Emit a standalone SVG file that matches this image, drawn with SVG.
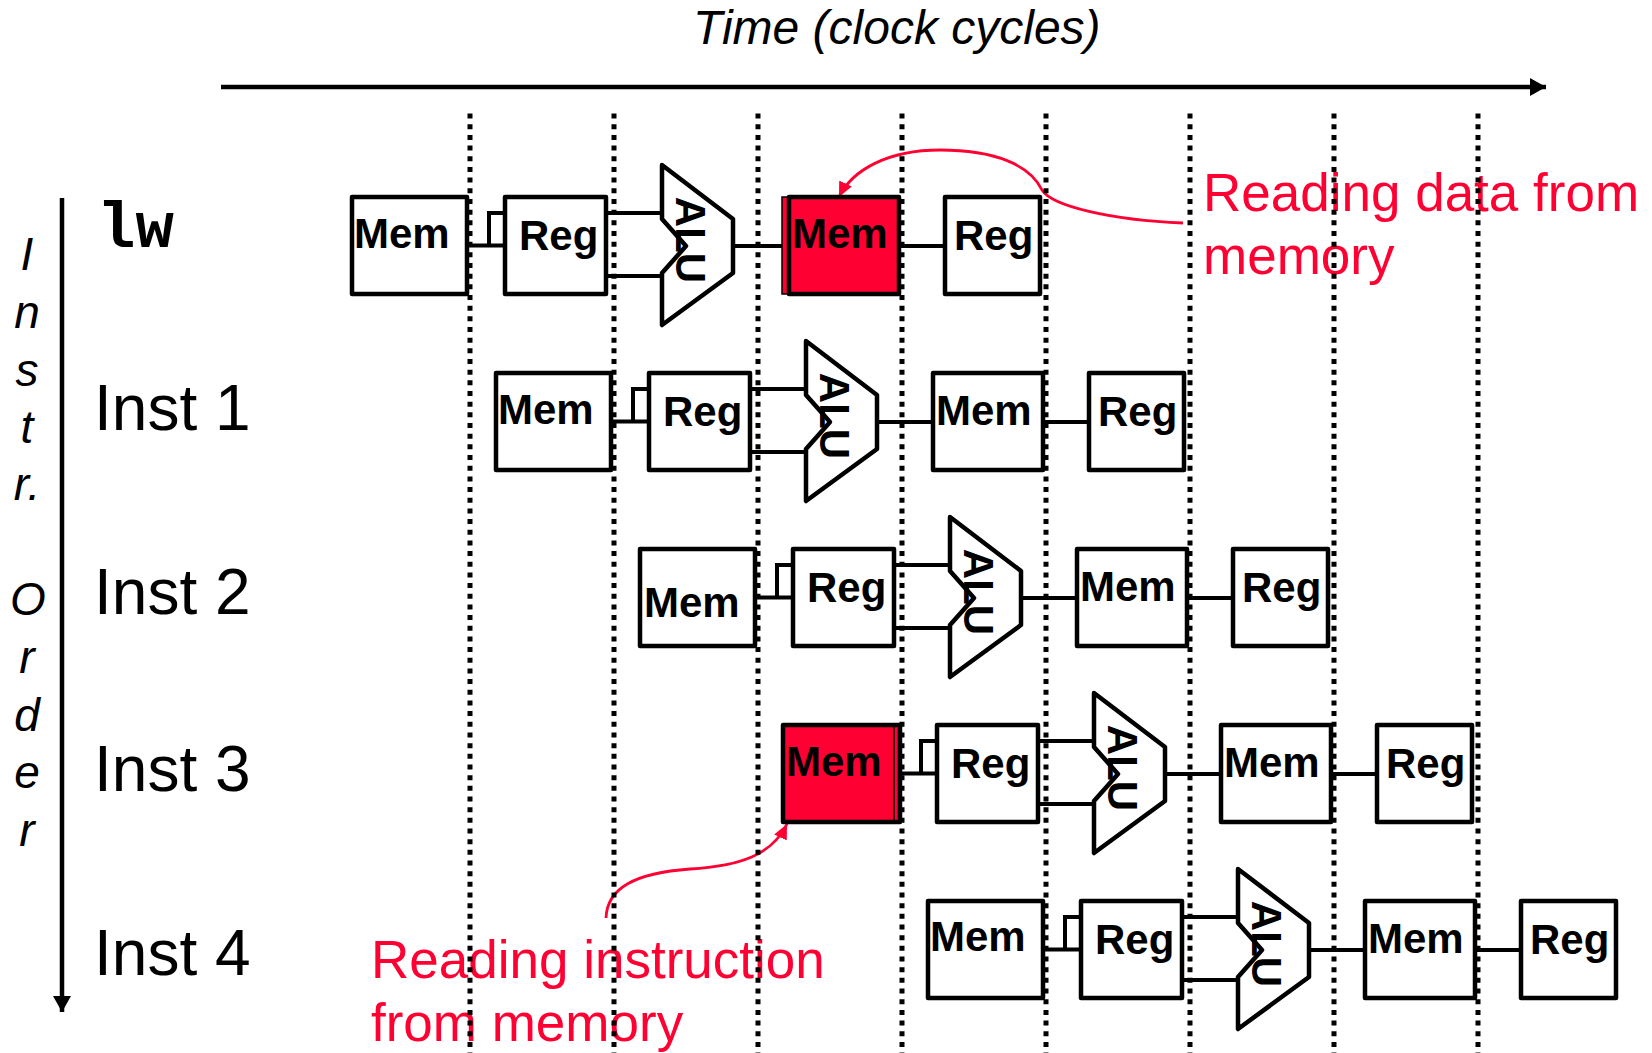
<svg xmlns="http://www.w3.org/2000/svg" width="1652" height="1053" viewBox="0 0 1652 1053">
<style>
.box{fill:#fff;stroke:#000;stroke-width:4.5;stroke-linejoin:round}
.redbox{fill:#FF0033;stroke:#000;stroke-width:4.5;stroke-linejoin:round}
.thin{fill:#FF0033;stroke:#000;stroke-width:1.5}
.wire{fill:none;stroke:#000;stroke-width:4}
.dot{fill:none;stroke:#000;stroke-width:5;stroke-dasharray:5 5.67}
.lbl{font-family:"Liberation Sans",Arial,sans-serif;font-weight:bold;font-size:42px;fill:#000}
.row{font-family:"Liberation Sans",Arial,sans-serif;font-size:64px;fill:#000}
.ord{font-family:"Liberation Sans",Arial,sans-serif;font-style:italic;font-size:46px;fill:#000}
.ann{font-family:"Liberation Sans",Arial,sans-serif;font-size:53px;fill:#FF0033}
.redline{fill:none;stroke:#FF0033;stroke-width:2.8}
.axis{fill:none;stroke:#000;stroke-width:4.5}
</style>
<defs>
<marker id="ah-black" markerUnits="userSpaceOnUse" markerWidth="18" markerHeight="18" refX="16" refY="9" orient="auto">
<path d="M0,0 L16,9 L0,18 Z" fill="#000"/>
</marker>
<marker id="ah-red" markerUnits="userSpaceOnUse" markerWidth="16" markerHeight="14" refX="15" refY="7" orient="auto">
<path d="M0,0 L15,7 L0,14 Z" fill="#FF0033"/>
</marker>
<polygon id="alu-shape" points="662,165 733,219 733,273 662,325 662,273 686,246 662,219"/>
</defs>
<rect width="1652" height="1053" fill="#fff"/>

<g id="title">
<text x="693" y="44" style="font-family:'Liberation Sans',Arial,sans-serif;font-style:italic;font-size:48px">Time (clock cycles)</text>
</g>

<g id="order-label">
<text class="ord" text-anchor="middle" x="27" y="270">I</text>
<text class="ord" text-anchor="middle" x="27" y="328">n</text>
<text class="ord" text-anchor="middle" x="27" y="386">s</text>
<text class="ord" text-anchor="middle" x="27" y="443">t</text>
<text class="ord" text-anchor="middle" x="27" y="500">r.</text>
<text class="ord" text-anchor="middle" x="28" y="615">O</text>
<text class="ord" text-anchor="middle" x="27" y="673">r</text>
<text class="ord" text-anchor="middle" x="27" y="731">d</text>
<text class="ord" text-anchor="middle" x="27" y="788">e</text>
<text class="ord" text-anchor="middle" x="27" y="846">r</text>
</g>

<g id="row-labels">
<text x="97" y="247" style="font-family:'Liberation Mono','Courier New',monospace;font-weight:bold;font-size:64px">lw</text>
<text class="row" x="94" y="430">Inst 1</text>
<text class="row" x="94" y="614">Inst 2</text>
<text class="row" x="94" y="791">Inst 3</text>
<text class="row" x="94" y="975">Inst 4</text>
</g>

<g id="connectors">
<path class="axis" d="M221,87 H1546" marker-end="url(#ah-black)"/>
<path class="axis" d="M62,198 V1012" marker-end="url(#ah-black)"/>
<g transform="translate(0,0)"><path class="wire" d="M467,245.5 H505 M489,245.5 V213 H505 M606,213 H662 M606,276 H662 M733,246 H789 M899,246 H945"/></g>
<g transform="translate(144,176)"><path class="wire" d="M467,245.5 H505 M489,245.5 V213 H505 M606,213 H662 M606,276 H662 M733,246 H789 M899,246 H945"/></g>
<g transform="translate(288,352)"><path class="wire" d="M467,245.5 H505 M489,245.5 V213 H505 M606,213 H662 M606,276 H662 M733,246 H789 M899,246 H945"/></g>
<g transform="translate(432,528)"><path class="wire" d="M467,245.5 H505 M489,245.5 V213 H505 M606,213 H662 M606,276 H662 M733,246 H789 M899,246 H945"/></g>
<g transform="translate(576,704)"><path class="wire" d="M467,245.5 H505 M489,245.5 V213 H505 M606,213 H662 M606,276 H662 M733,246 H789 M899,246 H945"/></g>
<path class="redline" d="M1183,223 C1110,220 1052,206 1042,190 C1030,165 995,150 940,150 C888,150 852,170 839,197" marker-end="url(#ah-red)"/>
<path class="redline" d="M606,918 C607,888 635,873 690,869 C740,866 772,855 787,824" marker-end="url(#ah-red)"/>
</g>

<!-- lw row -->
<g id="lw-if"><rect class="box" x="352" y="197" width="115" height="97"/><text class="lbl" x="354" y="248">Mem</text></g>
<g id="lw-id"><rect class="box" x="505" y="197" width="101" height="97"/><text class="lbl" x="519" y="250">Reg</text></g>
<g id="lw-ex"><use href="#alu-shape" class="box"/><text class="lbl" text-anchor="middle" transform="translate(676,240) rotate(90)">ALU</text></g>
<g id="lw-mem"><rect class="thin" x="782" y="197" width="116" height="97"/><rect x="789" y="197" width="110" height="97" fill="none" stroke="#000" stroke-width="4.5" stroke-linejoin="round"/><text class="lbl" x="792" y="248">Mem</text></g>
<g id="lw-wb"><rect class="box" x="945" y="197" width="95" height="97"/><text class="lbl" x="954" y="250">Reg</text></g>

<!-- Inst 1 -->
<g transform="translate(144,176)">
<g id="i1-if"><rect class="box" x="352" y="197" width="115" height="97"/><text class="lbl" x="354" y="248">Mem</text></g>
<g id="i1-id"><rect class="box" x="505" y="197" width="101" height="97"/><text class="lbl" x="519" y="250">Reg</text></g>
<g id="i1-ex"><use href="#alu-shape" class="box"/><text class="lbl" text-anchor="middle" transform="translate(676,240) rotate(90)">ALU</text></g>
<g id="i1-mem"><rect class="box" x="789" y="197" width="110" height="97"/><text class="lbl" x="792" y="249">Mem</text></g>
<g id="i1-wb"><rect class="box" x="945" y="197" width="95" height="97"/><text class="lbl" x="954" y="250">Reg</text></g>
</g>

<!-- Inst 2 -->
<g transform="translate(288,352)">
<g id="i2-if"><rect class="box" x="352" y="197" width="115" height="97"/><text class="lbl" x="356" y="265">Mem</text></g>
<g id="i2-id"><rect class="box" x="505" y="197" width="101" height="97"/><text class="lbl" x="519" y="250">Reg</text></g>
<g id="i2-ex"><use href="#alu-shape" class="box"/><text class="lbl" text-anchor="middle" transform="translate(676,240) rotate(90)">ALU</text></g>
<g id="i2-mem"><rect class="box" x="789" y="197" width="110" height="97"/><text class="lbl" x="792" y="249">Mem</text></g>
<g id="i2-wb"><rect class="box" x="945" y="197" width="95" height="97"/><text class="lbl" x="954" y="250">Reg</text></g>
</g>

<!-- Inst 3 -->
<g transform="translate(432,528)">
<g id="i3-if"><rect class="redbox" x="351" y="197" width="117" height="97"/><line x1="462" y1="199" x2="462" y2="292" stroke="#000" stroke-width="1.5"/><text class="lbl" x="354" y="248">Mem</text></g>
<g id="i3-id"><rect class="box" x="505" y="197" width="101" height="97"/><text class="lbl" x="519" y="250">Reg</text></g>
<g id="i3-ex"><use href="#alu-shape" class="box"/><text class="lbl" text-anchor="middle" transform="translate(676,240) rotate(90)">ALU</text></g>
<g id="i3-mem"><rect class="box" x="789" y="197" width="110" height="97"/><text class="lbl" x="792" y="249">Mem</text></g>
<g id="i3-wb"><rect class="box" x="945" y="197" width="95" height="97"/><text class="lbl" x="954" y="250">Reg</text></g>
</g>

<!-- Inst 4 -->
<g transform="translate(576,704)">
<g id="i4-if"><rect class="box" x="352" y="197" width="115" height="97"/><text class="lbl" x="354" y="247">Mem</text></g>
<g id="i4-id"><rect class="box" x="505" y="197" width="101" height="97"/><text class="lbl" x="519" y="250">Reg</text></g>
<g id="i4-ex"><use href="#alu-shape" class="box"/><text class="lbl" text-anchor="middle" transform="translate(676,240) rotate(90)">ALU</text></g>
<g id="i4-mem"><rect class="box" x="789" y="197" width="110" height="97"/><text class="lbl" x="792" y="249">Mem</text></g>
<g id="i4-wb"><rect class="box" x="945" y="197" width="95" height="97"/><text class="lbl" x="954" y="250">Reg</text></g>
</g>

<g id="annotations">
<text class="ann" x="1203" y="211">Reading data from</text>
<text class="ann" x="1203" y="274">memory</text>
<text class="ann" x="371" y="978">Reading instruction</text>
<text class="ann" x="371" y="1041">from memory</text>
</g>

<g id="cycle-lines">
<path class="dot" d="M470,113.6 V1053 M614,113.6 V1053 M758,113.6 V1053 M902,113.6 V1053 M1046,113.6 V1053 M1190,113.6 V1053 M1334,113.6 V1053 M1478,113.6 V1053"/>
</g>
</svg>
